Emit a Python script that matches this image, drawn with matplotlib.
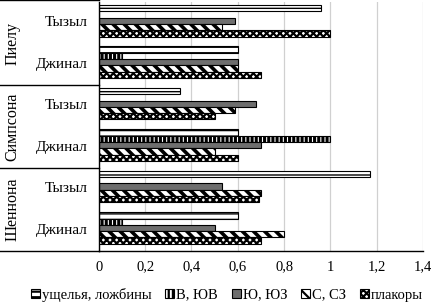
import matplotlib
matplotlib.use('Agg')
import numpy as np
import matplotlib.pyplot as plt
from matplotlib.patches import Patch
from matplotlib.transforms import blended_transform_factory

plt.rcParams['font.family'] = ['Liberation Serif', 'DejaVu Serif']
plt.rcParams['hatch.linewidth'] = 1.6

# categories, top to bottom
groups = ['Пиелу', 'Симпсона', 'Шеннона']
sites = ['Тызыл', 'Джинал', 'Тызыл', 'Джинал', 'Тызыл', 'Джинал']

series_names = ['ущелья, ложбины', 'В, ЮВ', 'Ю, ЮЗ', 'С, СЗ', 'плакоры']
ushchelya = [0.96, 0.60, 0.35, 0.60, 1.17, 0.60]
v_yuv = [0.0, 0.10, 0.0, 1.00, 0.0, 0.10]
yu_yuz = [0.59, 0.60, 0.68, 0.70, 0.53, 0.50]
s_sz = [0.53, 0.60, 0.59, 0.50, 0.70, 0.80]
plakory = [1.00, 0.70, 0.50, 0.60, 0.69, 0.70]

series = [ushchelya, v_yuv, yu_yuz, s_sz, plakory]
styles = [
    dict(color='white', hatch='---', hlw=1.0),
    dict(color='white', hatch='||||', hlw=2.2),
    dict(color='#6e6e6e', hatch=None, hlw=1.0),
    dict(color='white', hatch='\\\\\\', hlw=2.6),
    dict(color='white', hatch='xxxxx', hlw=1.6),
]


def set_hlw(p, lw):
    if hasattr(p, 'set_hatch_linewidth'):
        p.set_hatch_linewidth(lw)


fig = plt.figure(figsize=(4.32, 3.07), dpi=100)
ax = fig.add_axes([0.229, 0.183, 0.750, 0.810])

y = np.arange(len(sites))
h = 0.152
for j, (vals, st) in enumerate(zip(series, styles)):
    bars = ax.barh(y + (j - 2) * h - 0.05, vals, height=h, color=st['color'],
                   hatch=st['hatch'], edgecolor='black', linewidth=0.8)
    for p in bars:
        set_hlw(p, st['hlw'])

ax.set_ylim(5.5, -0.5)
ax.set_xlim(0, 1.4)
ax.set_xticks(np.arange(0, 1.41, 0.2))
ax.set_xticklabels(['0', '0,2', '0,4', '0,6', '0,8', '1', '1,2', '1,4'], fontsize=10.5)
ax.tick_params(axis='x', length=0, pad=7)
ax.set_yticks([])
ax.grid(axis='x', color='#d0d0d0', linewidth=0.9)
ax.set_axisbelow(True)
ax.spines['top'].set_visible(False)
ax.spines['right'].set_visible(False)
ax.spines['left'].set_linewidth(1.0)
ax.spines['bottom'].set_linewidth(1.0)

# left-side labels
tr = blended_transform_factory(fig.transFigure, ax.transData)
for i, s in enumerate(sites):
    fig.text(0.203, i, s, transform=tr, ha='right', va='center', fontsize=11)
for g, name in enumerate(groups):
    fig.text(0.028, 2 * g + 0.5, name, transform=tr, ha='center', va='center',
             rotation=90, fontsize=11.5)
for b in [-0.55, 1.5, 3.5, 5.5]:
    fig.add_artist(plt.Line2D([0, 0.229], [b, b], transform=tr, color='black',
                              linewidth=1.0))

handles = []
for st in styles:
    p = Patch(facecolor=st['color'], hatch=st['hatch'], edgecolor='black',
              linewidth=0.8)
    set_hlw(p, min(st['hlw'], 1.4))
    handles.append(p)
fig.legend(handles, series_names, loc='lower center', bbox_to_anchor=(0.525, -0.025),
           ncol=5, frameon=False, fontsize=10.5, handlelength=0.6, handleheight=0.6,
           handletextpad=0.15, columnspacing=0.95)

fig.savefig('out.png', dpi=100)
